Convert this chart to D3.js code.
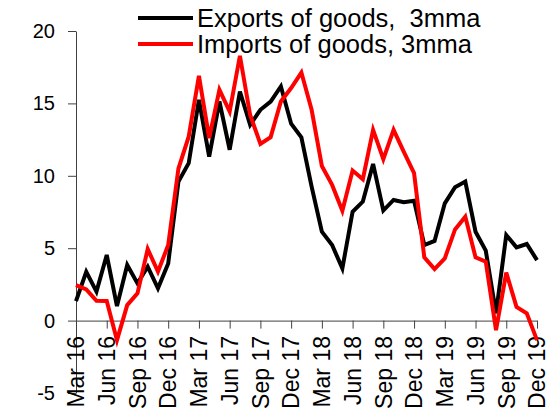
<!DOCTYPE html>
<html>
<head>
	<meta charset="utf-8">
	<script src="https://cdn.jsdelivr.net/npm/d3@7"></script>
	<style>
		html, body {
			padding: 0;
			margin: 0;
			background: #ffffff;
		}
		text {
			font-family: "Liberation Sans", Arial, sans-serif;
			fill: #000000;
		}
	</style>
</head>
<body>
	<script>
		var width = 546, height = 411;

		// monthly, Mar 16 .. Dec 19
		var months = ["Mar 16", "Apr 16", "May 16", "Jun 16", "Jul 16", "Aug 16", "Sep 16", "Oct 16", "Nov 16", "Dec 16",
			"Jan 17", "Feb 17", "Mar 17", "Apr 17", "May 17", "Jun 17", "Jul 17", "Aug 17", "Sep 17", "Oct 17", "Nov 17", "Dec 17",
			"Jan 18", "Feb 18", "Mar 18", "Apr 18", "May 18", "Jun 18", "Jul 18", "Aug 18", "Sep 18", "Oct 18", "Nov 18", "Dec 18",
			"Jan 19", "Feb 19", "Mar 19", "Apr 19", "May 19", "Jun 19", "Jul 19", "Aug 19", "Sep 19", "Oct 19", "Nov 19", "Dec 19"];

		var exports3mma = [1.35, 3.37, 2.0, 4.53, 1.0, 3.84, 2.57, 3.72, 2.23, 3.95,
			9.6, 10.87, 15.25, 11.33, 15.13, 11.8, 15.82, 13.52, 14.56, 15.13, 16.17, 13.6,
			12.65, 9.25, 6.14, 5.22, 3.6, 7.52, 8.22, 10.82, 7.6, 8.33, 8.17, 8.28,
			5.22, 5.5, 8.1, 9.21, 9.6, 6.14, 4.83, 0.5, 5.91, 5.06, 5.29, 4.18];

		var imports3mma = [2.45, 2.16, 1.37, 1.35, -1.35, 1.07, 1.88, 4.94, 3.38, 5.22,
			10.5, 12.7, 16.9, 12.6, 15.94, 14.44, 18.29, 14.2, 12.2, 12.67, 15.13, 16.06,
			17.13, 14.56, 10.68, 9.37, 7.59, 10.36, 9.76, 13.17, 11.15, 13.17, 11.65, 10.18,
			4.37, 3.56, 4.3, 6.3, 7.18, 4.37, 4.07, -0.66, 3.31, 0.95, 0.5, -1.35];

		var yTicks = [-5, 0, 5, 10, 15, 20];

		var seriesNames = ["Exports of goods,  3mma", "Imports of goods, 3mma"];
		var seriesColors = ["#000000", "#ff0000"];

		var svg = d3.select('body').append('svg')
			.attr('width', width)
			.attr('height', height);

		var x = d3.scaleLinear()
			.domain([0, months.length - 1])
			.range([76, 537]);

		var y = d3.scaleLinear()
			.domain([-5, 20])
			.range([393, 31]);

		// y axis (plain hyphen for negatives, like the source)
		var yAxis = svg.append("g")
			.attr("transform", "translate(76,0)")
			.call(d3.axisLeft(y).tickValues(yTicks).tickSize(8).tickSizeOuter(0).tickPadding(13)
				.tickFormat(function(d) { return String(d); }));
		yAxis.select(".domain").attr("stroke", "#404040");
		yAxis.selectAll(".tick line").attr("stroke", "#404040");
		yAxis.selectAll(".tick text")
			.style("font-size", "20px")
			.style("font-family", "'Liberation Sans', Arial, sans-serif")
			.attr("fill", "#000");

		// x axis sitting on zero, labels drawn separately below
		var quarterIdx = d3.range(0, months.length, 3);
		var xAxis = svg.append("g")
			.attr("transform", "translate(0," + y(0) + ")")
			.call(d3.axisBottom(x).tickValues(quarterIdx).tickSize(8).tickSizeOuter(0).tickFormat(""));
		xAxis.select(".domain").attr("stroke", "#404040");
		xAxis.selectAll(".tick line").attr("stroke", "#404040");

		svg.append("g").selectAll("text")
			.data(quarterIdx)
			.enter().append("text")
			.attr("transform", function(d) { return "translate(" + x(d) + ",336) rotate(-90)"; })
			.attr("dy", "0.36em")
			.attr("text-anchor", "end")
			.style("font-size", "23px")
			.text(function(d) { return months[d]; });

		// lines
		var line = d3.line()
			.x(function(d, i) { return x(i); })
			.y(function(d) { return y(d); });

		[exports3mma, imports3mma].forEach(function(s, k) {
			svg.append("path")
				.datum(s)
				.attr("fill", "none")
				.attr("stroke", seriesColors[k])
				.attr("stroke-width", 4)
				.attr("stroke-linejoin", "miter")
				.attr("d", line);
		});

		// legend
		var legend = svg.append("g");
		seriesNames.forEach(function(name, k) {
			var ly = 18 + k * 26;
			legend.append("line")
				.attr("x1", 138).attr("x2", 193)
				.attr("y1", ly).attr("y2", ly)
				.attr("stroke", seriesColors[k])
				.attr("stroke-width", 4);
			legend.append("text")
				.attr("x", 197)
				.attr("y", ly + 9)
				.style("font-size", "25.5px")
				.style("white-space", "pre")
				.text(name);
		});
	</script>
</body>
</html>
